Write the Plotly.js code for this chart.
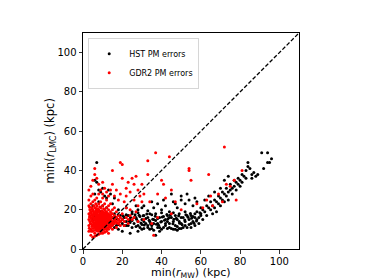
<!DOCTYPE html>
<html><head><meta charset="utf-8">
<script src="https://cdn.plot.ly/plotly-3.0.1.min.js"></script>
<style>html,body{margin:0;padding:0;background:#fff}#c{width:374px;height:280px}</style>
</head><body><div id="c"></div>
<script>
// HST PM errors (black) — [min r_MW, min r_LMC] in kpc
const hstPoints = [
[12,15],[13,17],[14,13],[15,16],[16,14],[17,12],[18,15],[19,17],[20,13],[21,16],[22,14],[23,12],[24,15],[25,18],[26,13],[27,16],[28,14],[29,11],[30,15],[31,17],[32,13],[33,16],[34,14],[35,12],[36,15],[37,18],[38,13],[39,16],[40,14],[41,11],[42,15],[43,17],[44,13],[45,16],[46,14],[47,12],[48,15],[49,18],[50,13],[51,16],[52,14],[53,11],[54,15],[55,17],[56,14],[57,16],[58,15],
[13,14.5],[15,12.5],[17,15.5],[19,14],[21,12],[23,17],[25,14.5],[27,11.5],[29,16.5],[31,14],[33,12],[35,17.5],[37,14.5],[39,11],[41,16.5],[43,14],[45,10.5],[47,17],[49,14],[51,11],[53,17],[55,13],[57,18],[59,16],
[14,16.5],[16,18],[18,12.5],[20,15],[22,17.5],[24,13.5],[26,16],[28,18.5],[30,12.5],[32,15.5],[34,18],[36,13],[38,15.5],[40,18.5],[42,12],[44,16],[46,18.5],[48,11.5],[50,16],[52,19],[54,12.5],[56,16.5],[58,19],[60,17],
[22,12],[25,11],[28,12],[31,10.5],[34,10],[36,9.5],[38,11],[40,10],[42,13],[44,11],[46,10],[48,9.5],[50,10.5],[52,12],[47,10],[49,10.5],[43,10.5],[39,9],[35,10.5],[33,11],
[20.5,16.8],[23.5,14.2],[26.5,17.4],[29.5,13.3],[32.5,17.8],[35.5,15.2],[38.5,12.1],[41.5,14.7],[44.5,17.3],[47.5,15.6],[50.5,12.4],[53.5,16.2],[56.5,13.1],[59.5,18.4],[24.2,16.1],[27.3,15.2],[30.6,16.9],[33.7,14.6],[36.8,16.7],[39.6,13.8],[42.7,17.6],[45.8,12.9],[48.7,16.9],[51.8,14.8],[54.7,18.1],[57.8,14.3],[31.2,12.2],[37.4,12.6],[43.3,15.4],[49.2,13.1],[55.3,15.6],[28.6,17.2],[34.4,12.8],[40.4,16.3],[46.3,15.1],[52.4,17.4],
[18,20],[22,21],[25,19],[28,20],[31,22],[33,19.5],[36,21],[38,23],[40,20],[42,22],[44,19],[46,24],[48,21],[50,27],[52,23],[54,25],[56,22],[58,24],[60,21],[45,28],[50,25],[53,28],[57,26],[35,24],[30,21],[27,22],[41,25],[47,23],
[7,44],[6,35],[7,34],[8,30],[6,28],[9,29],[10,31],[11,27],[12,26],[13,30],[14,28],[8,24],[10,22],[12,21],[15,23],[16,26],[5,22],[7,20],[9,19],[11,18],
[5,15],[6,17],[8,13],[10,14],[12,16],[14,12],[7,11],[9,9],[11,12],[16,11],[18,10],[20,9],[24,8],[28,9],[30,10],[37,7],
[60,18],[61,20],[62,19],[63,22],[63,17],[64,21],[65,20],[65,24],[66,22],[67,25],[67,21],[68,24],[69,23],[69,27],[70,26],[71,25],[71,29],[72,28],[73,27],[73,31],[74,29],[75,30],[75,33],[76,31],[77,32],[77,35],[78,34],[79,33],[79,36],[80,35],[81,34],[81,38],[82,37],[83,40],[83,36],[84,44],[84,42],[85,41],[86,38],[86,36],[87,39],[88,37],[89,38],[91,49],[92,41],[94,49],[95,44],[96,46],[94,44],
[64,27],[66,18],[62,25],[70,22],[72,24],[74,25],[76,28],[78,30],[80,32],[68,19],[74,37],[72,35],[70,31],[67,29],[61,15],[59,13],[57,12],[55,11]
];
// GDR2 PM errors (red)
const gdr2Points = [
[3,12],[3,15],[3,18],[3,22],[3,25],[4,10],[4,13],[4,16],[4,19],[4,23],[4,27],[5,9],[5,12],[5,14],[5,17],[5,20],[5,24],[5,28],[6,8],[6,11],[6,13],[6,15],[6,18],[6,21],[6,25],[7,10],[7,12],[7,14],[7,16],[7,19],[7,22],[7,26],[8,9],[8,11],[8,13],[8,15],[8,17],[8,20],[8,23],[8,28],[9,10],[9,12],[9,14],[9,16],[9,18],[9,21],[9,24],[10,8],[10,11],[10,13],[10,15],[10,17],[10,19],[10,22],[10,26],[11,10],[11,12],[11,14],[11,16],[11,18],[11,20],[11,23],[12,9],[12,11],[12,13],[12,15],[12,17],[12,19],[12,21],[12,25],[13,10],[13,12],[13,14],[13,16],[13,18],[13,20],[13,22],[14,11],[14,13],[14,15],[14,17],[14,19],[14,23],[15,12],[15,14],[15,16],[15,18],[15,20],[16,13],[16,15],[16,17],[16,21],[17,14],[17,16],[17,19],[18,13],[18,15],[18,17],[19,14],[19,16],[20,15],[20,18],[21,14],[22,16],[23,15],[24,17],[25,15],[26,16],
[3.5,14],[3.5,17],[3.5,20],[4.5,11.5],[4.5,14.5],[4.5,17.5],[4.5,21],[5.5,13],[5.5,15.5],[5.5,18.5],[5.5,22],[6.5,12],[6.5,14],[6.5,16.5],[6.5,19.5],[6.5,23],[7.5,11],[7.5,13.5],[7.5,15.5],[7.5,17.5],[7.5,20.5],[8.5,12],[8.5,14],[8.5,16],[8.5,18.5],[8.5,21.5],[9.5,11],[9.5,13],[9.5,15],[9.5,17],[9.5,19.5],[10.5,12],[10.5,14],[10.5,16],[10.5,18],[10.5,20.5],[11.5,13],[11.5,15],[11.5,17],[11.5,19],[12.5,14],[12.5,16],[12.5,18],[13.5,13],[13.5,15],[13.5,17],[14.5,14],[14.5,16],[14.5,18],[3,9],[4,7],[5,6],[6,6.5],[7,7],[8,7.5],[9,8],[11,8.5],[13,8],[15,10],[17,11],[19,12],[21,12],[23,13],
[3.2,10.6],[3.8,12.8],[3.3,16.3],[3.9,18.7],[3.4,21.2],[4.2,9.1],[4.8,12.2],[4.3,15.3],[4.9,16.8],[4.2,18.2],[4.7,20.1],[5.2,10.4],[5.8,11.7],[5.3,13.6],[5.9,14.9],[5.2,16.3],[5.7,17.6],[5.3,19.2],[6.2,9.6],[6.8,10.8],[6.3,12.7],[6.9,13.3],[6.2,15.6],[6.8,17.2],[6.3,18.4],[6.7,20.6],[7.2,9.2],[7.8,11.9],[7.3,12.9],[7.7,14.6],[7.2,15.1],[7.8,16.6],[7.3,18.3],[7.7,19.4],[8.2,10.3],[8.8,11.2],[8.3,12.6],[8.7,13.4],[8.2,14.6],[8.8,15.3],[8.3,16.6],[8.7,17.4],[8.2,19.1],[9.2,9.4],[9.8,11.8],[9.3,12.4],[9.7,13.7],[9.2,15.5],[9.8,16.2],[9.3,17.8],[9.7,18.6],[10.2,9.6],[10.8,10.7],[10.3,12.6],[10.7,13.3],[10.2,14.4],[10.8,15.4],[10.3,16.6],[10.7,17.4],[10.2,18.7],[11.2,11.1],[11.8,12.4],[11.3,13.6],[11.7,14.3],[11.2,15.4],[11.8,16.3],[11.3,17.6],[11.7,18.4],[12.2,10.2],[12.8,12.3],[12.3,13.7],[12.7,15.2],[12.2,16.4],[12.8,17.3],[13.2,11.3],[13.8,12.4],[13.3,14.6],[13.7,16.3],[14.2,12.2],[14.8,13.3],[14.3,15.3],[15.2,13.1],[15.8,15.4],[16.3,14.2],[16.8,16.3],[17.4,13.2],[18.6,14.3],
[3,30],[4,32],[5,35],[6,38],[6,41],[7,36],[8,33],[9,30],[10,28],[10,34],[11,31],[12,29],[13,27],[14,30],[15,33],[15,40],[16,27],[17,30],[18,25],[19,28],[19,44],[20,43],[20,36],[21,24],[22,31],[22,27],[23,34],[24,29],[25,36],[26,33],[26,25],[27,37],[28,30],[28,22],[29,27],[30,24],[30,33],[31,28],[33,45],[33,38],[34,24],[37,49],[38,28],[40,35],[41,33],[42,26],[44,47],[45,30],[47,24],[54,41],[54,40],[55,35],[58,23],[64,38],[63,25],[65,27],[72,52],[69,28],[73,33],[75,32],[77,35],[81,40],[78,25],[71,24],[66,22],[61,21],[50,20],[45,18],[38,16],[35,13],[31,15],[28,14],[27,19],[24,20],[22,21],[36,7]
];
const diagX = [0, 110];
const diagY = [0, 110];
const xTicks = [0, 20, 40, 60, 80, 100];
const yTicks = [0, 20, 40, 60, 80, 100];

const traces = [
  {x: hstPoints.map(p=>p[0]), y: hstPoints.map(p=>p[1]), mode: 'markers', type: 'scatter',
   name: 'HST PM errors', marker: {color: '#000', size: 3, line: {width: 0}}},
  {x: gdr2Points.map(p=>p[0]), y: gdr2Points.map(p=>p[1]), mode: 'markers', type: 'scatter',
   name: 'GDR2 PM errors', marker: {color: '#ff0000', size: 3, line: {width: 0}}},
  {x: diagX, y: diagY, mode: 'lines', type: 'scatter', showlegend: false,
   line: {color: '#000', dash: '4px,2px', width: 1.3}}
];
const axBase = {range: [0, 110], showgrid: false, zeroline: false, showline: true, mirror: true,
  linecolor: '#000', linewidth: 1, ticks: 'outside', ticklen: 3.5, tickwidth: 0.8, tickcolor: '#000',
  tickfont: {family: 'DejaVu Sans', size: 10, color: '#000'}, fixedrange: true};
const titleFont = {family: 'DejaVu Sans', size: 11, color: '#000'};
const layout = {
  width: 374, height: 280, paper_bgcolor: '#fff', plot_bgcolor: '#fff',
  margin: {l: 83, r: 75, t: 33, b: 31},
  font: {family: 'DejaVu Sans', color: '#000'}, showlegend: true,
  legend: {x: 0.025, y: 0.975, xanchor: 'left', yanchor: 'top', bgcolor: '#fff',
    bordercolor: '#ccc', borderwidth: 0.8, font: {family: 'DejaVu Sans', size: 8, color: '#000'},
    itemwidth: 30, tracegroupgap: 0},
  xaxis: Object.assign({}, axBase, {tickvals: xTicks, ticktext: xTicks.map(String), ticklabelstandoff: -1}),
  yaxis: Object.assign({}, axBase, {tickvals: yTicks, ticktext: yTicks.map(String)}),
  annotations: [
    {text: 'min(<i>r</i><sub>MW</sub>) (kpc)', xref: 'paper', yref: 'paper', x: 0.5, y: 0,
     xanchor: 'center', yanchor: 'top', yshift: -15, showarrow: false, font: titleFont},
    {text: 'min(<i>r</i><sub>LMC</sub>) (kpc)', xref: 'paper', yref: 'paper', x: 0, y: 0.5,
     xanchor: 'right', yanchor: 'middle', xshift: -24, textangle: -90, showarrow: false, font: {family: 'DejaVu Sans', size: 11.5, color: '#000'}}
  ]
};
Plotly.newPlot('c', traces, layout, {displayModeBar: false, staticPlot: true});
</script></body></html>
